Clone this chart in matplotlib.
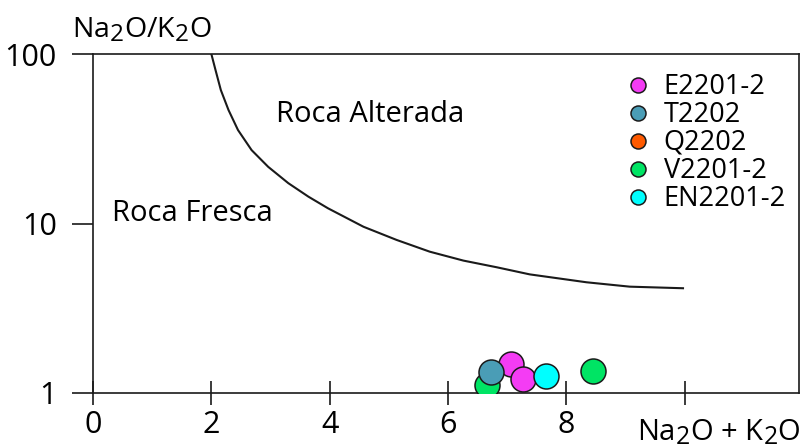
import matplotlib
matplotlib.use("Agg")
import matplotlib.pyplot as plt
import matplotlib._mathtext as _mt
from matplotlib.ticker import FixedLocator, NullLocator, FixedFormatter

_mt.SHRINK_FACTOR = 0.85

FONT = "Open Sans"
plt.rcParams['font.family'] = [FONT, 'DejaVu Sans']
plt.rcParams['mathtext.fontset'] = 'custom'
plt.rcParams['mathtext.rm'] = FONT
plt.rcParams['mathtext.it'] = FONT

# ---- data ----
series_names = ["E2201-2", "T2202", "Q2202", "V2201-2", "EN2201-2"]
series_colors = ["#F43CF4", "#4A9DB6", "#FF5A00", "#00E464", "#00FFFF"]
e_x = [7.06, 7.27]
e_y = [1.48, 1.21]
t_x = [6.73]
t_y = [1.33]
q_x = []
q_y = []
v_x = [6.65, 8.45]
v_y = [1.12, 1.34]
en_x = [7.66]
en_y = [1.26]

# boundary curve between fresh and altered rock
curve_x = [2.0, 2.07, 2.16, 2.29, 2.45, 2.68, 2.96, 3.30, 3.64, 3.97,
           4.57, 5.13, 5.69, 6.26, 6.82, 7.38, 8.34, 9.07, 9.97]
curve_y = [100, 80.5, 61.3, 46.7, 35.6, 27.1, 21.6, 17.3, 14.4, 12.3,
           9.57, 8.0, 6.82, 6.04, 5.52, 5.01, 4.50, 4.24, 4.15]

x_ticks = [0, 2, 4, 6, 8, 10]
x_tick_labels = ["0", "2", "4", "6", "8", ""]
y_ticks = [1, 10, 100]
y_tick_labels = ["1", "10", "100"]

W, H = 804, 447
fig = plt.figure(figsize=(W / 100, H / 100), dpi=100)
ax = fig.add_axes([93 / W, (H - 393) / H, (799 - 93) / W, (393 - 54) / H])

ax.set_yscale('log')
ax.set_xlim(0, 11.93)
ax.set_ylim(1, 100)

ax.plot(curve_x, curve_y, color='#1a1a1a', lw=1.5, zorder=2,
        solid_joinstyle='round')

data = {
    "E2201-2": (e_x, e_y),
    "T2202": (t_x, t_y),
    "Q2202": (q_x, q_y),
    "V2201-2": (v_x, v_y),
    "EN2201-2": (en_x, en_y),
}
zorders = {"V2201-2": 3, "E2201-2": 4, "EN2201-2": 5, "T2202": 6, "Q2202": 3}
handles = []
for name, col in zip(series_names, series_colors):
    xs, ys = data[name]
    h, = ax.plot(xs, ys, linestyle='none', marker='o', markersize=18,
                 markerfacecolor=col, markeredgecolor='#1a1a1a',
                 markeredgewidth=1.1, zorder=zorders[name], label=name)
    handles.append(h)

for s in ax.spines.values():
    s.set_linewidth(1.2)
    s.set_color('#1a1a1a')

ax.xaxis.set_major_locator(FixedLocator(x_ticks))
ax.xaxis.set_major_formatter(FixedFormatter(x_tick_labels))
ax.yaxis.set_major_locator(FixedLocator(y_ticks))
ax.yaxis.set_major_formatter(FixedFormatter(y_tick_labels))
ax.yaxis.set_minor_locator(NullLocator())
ax.xaxis.set_minor_locator(NullLocator())
ax.tick_params(axis='x', direction='inout', length=17, width=1.2,
               labelsize=22, pad=4, colors='#1a1a1a', labelcolor='black')
ax.tick_params(axis='y', direction='out', length=15, width=1.2,
               labelsize=22, pad=11, colors='#1a1a1a', labelcolor='black')

ax.text(3.10, 39.9, "Roca Alterada", fontsize=21, va='baseline', ha='left')
ax.text(0.316, 10.4, "Roca Fresca", fontsize=21, va='baseline', ha='left')

fig.text(72 / W, (H - 38) / H, r"Na$_\mathregular{2}$O/K$_\mathregular{2}$O",
         fontsize=20.5, va='baseline', ha='left')
fig.text(801 / W, (H - 440) / H, r"Na$_\mathregular{2}$O + K$_\mathregular{2}$O",
         fontsize=21, va='baseline', ha='right')

leg = ax.legend(handles=handles, loc='upper left',
                bbox_to_anchor=(627 / W, (H - 73) / H),
                bbox_transform=fig.transFigure, frameon=False,
                fontsize=19.5, markerscale=0.6, handlelength=0.8,
                handletextpad=0.55, labelspacing=0.0, borderpad=0,
                borderaxespad=0)

fig.savefig("out.png", dpi=100)
